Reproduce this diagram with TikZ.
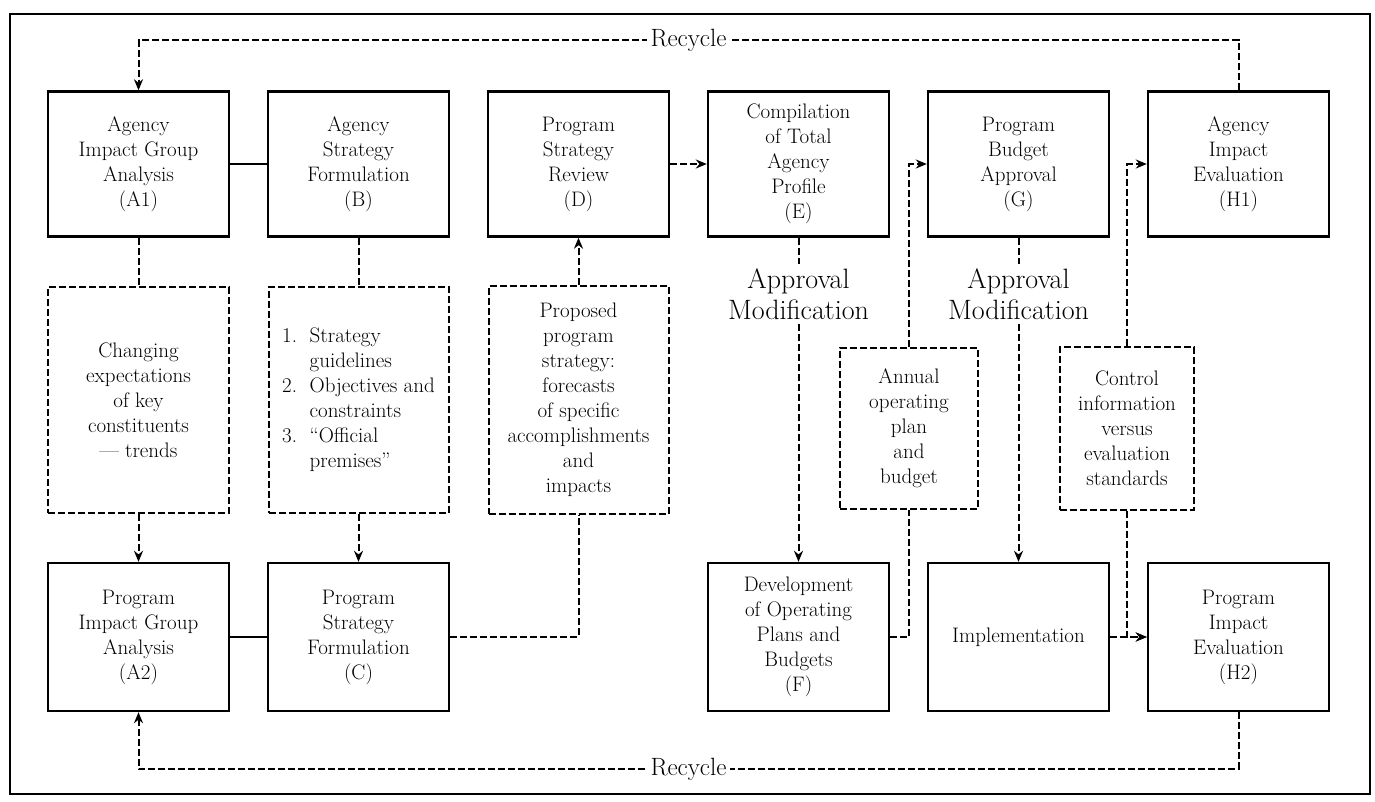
\documentclass[tikz,border=0pt]{standalone}
\usepackage{fontspec}
\usepackage{tikz}
\usetikzlibrary{shapes,arrows,arrows.meta,positioning,calc}
\newcommand{\blkfont}{\fontsize{21}{25}\selectfont}
\newcommand{\apfont}{\fontsize{28}{31}\selectfont}
\newcommand{\recfont}{\fontsize{25}{28}\selectfont}
\tikzstyle{block} = [rectangle, draw, line width=2.4pt, minimum width=181pt, minimum height=145pt, align=center, font=\blkfont, inner sep=2pt]
\tikzstyle{note} = [rectangle, draw, line width=2pt, dash pattern=on 7pt off 3pt, align=center, font=\blkfont, inner sep=2pt]
\tikzstyle{verdict} = [align=center, font=\apfont, inner sep=4pt]
\tikzstyle{recycle} = [fill=white, font=\recfont, inner sep=4pt]
\tikzstyle{line} = [draw, line width=2pt]
\tikzstyle{dline} = [draw, line width=2pt, dash pattern=on 7pt off 3pt]
\tikzstyle{dflow} = [dline, -{Stealth[length=11pt,width=9pt]}]

\begin{document}
\begin{tikzpicture}[x=1pt,y=-1pt,node distance=220pt]
	\useasboundingbox (0,0) rectangle (1375,801);
	\draw [line width=1.6pt] (10,14) rectangle (1370,794);
	%Place nodes
	\node [block] (A1) at (138.5,164) {Agency\\Impact Group\\Analysis\\(A1)};
	\node [block, right of=A1] (B) {Agency\\Strategy\\Formulation\\(B)};
	\node [block, right of=B] (D) {Program\\Strategy\\Review\\(D)};
	\node [block, right of=D] (E) {Compilation\\of Total\\Agency\\Profile\\(E)};
	\node [block, right of=E] (G) {Program\\Budget\\Approval\\(G)};
	\node [block, right of=G] (H1) {Agency\\Impact\\Evaluation\\(H1)};

	\node [block, minimum height=148pt, below of=A1, node distance=473pt] (A2) {Program\\Impact Group\\Analysis\\(A2)};
	\node [block, minimum height=148pt, below of=B, node distance=473pt] (C) {Program\\Strategy\\Formulation\\(C)};
	\node [block, minimum height=148pt, below of=E, node distance=473pt] (F) {Development\\of Operating\\Plans and\\Budgets\\(F)};
	\node [block, minimum height=148pt, below of=G, node distance=473pt] (impl) {Implementation};
	\node [block, minimum height=148pt, below of=H1, node distance=473pt] (H2) {Program\\Impact\\Evaluation\\(H2)};

	\node [note, minimum width=181pt, minimum height=226pt, below of=A1, node distance=236pt] (chg) {Changing\\expectations\\of key\\constituents\\--- trends};
	\node [note, minimum width=180pt, minimum height=226pt, below of=B, node distance=236pt] (strat) {\begin{tabular}{@{}l@{\hspace{0.6em}}l@{}}1. & Strategy\\ & guidelines\\ 2. & Objectives and\\ & constraints\\ 3. & ``Official\\ & premises''\end{tabular}};
	\node [note, minimum width=180pt, minimum height=228pt, below of=D, node distance=236pt] (prop) {Proposed\\program\\strategy:\\forecasts\\of specific\\accomplishments\\and\\impacts};
	\node [note, minimum width=138pt, minimum height=161pt] (ann) at (909,428) {Annual\\operating\\plan\\and\\budget};
	\node [note, minimum width=134pt, minimum height=163pt] (ctl) at (1127,428) {Control\\information\\versus\\evaluation\\standards};

	\node [verdict, below of=E, node distance=130pt] (apE) {Approval\\Modification};
	\node [verdict, below of=G, node distance=130pt] (apG) {Approval\\Modification};

	\coordinate (top) at (0,40);
	\coordinate (bot) at (0,769);

	\path [line] (A1) -- (B);
	\path [line] (A2) -- (C);
	\path [dflow] (D) -- (E);
	\path [dline] (A1) -- (chg);
	\path [dflow] (chg) -- (A2);
	\path [dline] (B) -- (strat);
	\path [dflow] (strat) -- (C);
	\path [dline] (C) -| (prop);
	\path [dflow] (prop) -- (D);
	\path [dline] (E) -- (apE);
	\path [dflow] (apE) -- (F);
	\path [dline] (G) -- (apG);
	\path [dflow] (apG) -- (impl);
	\path [dline] (F) -| (ann);
	\path [dflow] (ann) |- (G);
	\path [dflow] (ctl) |- (H1);
	\path [dflow] (ctl) |- (H2);
	\path [dflow] (impl) -- (H2);

	\path [dflow] (H1.north) -- (H1.north |- top) -- node[recycle] {Recycle} (A1.north |- top) -- (A1.north);
	\path [dflow] (H2.south) -- (H2.south |- bot) -- node[recycle] {Recycle} (A2.south |- bot) -- (A2.south);
\end{tikzpicture}
\end{document}
